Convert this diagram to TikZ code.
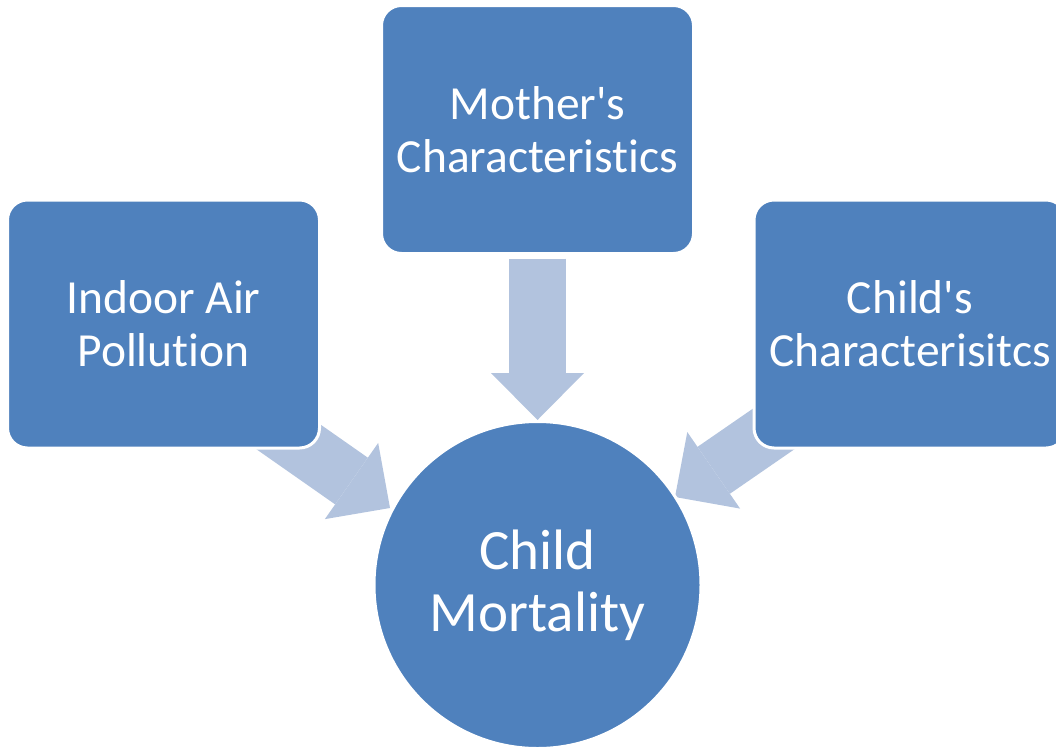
\documentclass[tikz,border=0pt]{standalone}
\usepackage{fontspec}
\setmainfont{Carlito}[Ligatures={NoCommon}]
\usetikzlibrary{arrows.meta,backgrounds}
\definecolor{boxblue}{RGB}{79,129,189}
\definecolor{arrowblue}{RGB}{178,195,222}

\begin{document}
\begin{tikzpicture}[x=1pt,y=-1pt,
	factor/.style={fill=boxblue,draw=white,line width=3pt,rounded corners=20pt,
		minimum width=312pt,minimum height=248pt,inner sep=0pt,align=center,
		text=white,font=\fontsize{47.5}{53}\selectfont},
	outcome/.style={circle,fill=boxblue,draw=white,line width=3pt,minimum size=327pt,
		inner sep=0pt,align=center,text=white,font=\fontsize{57}{62}\selectfont},
	flow/.style={draw=arrowblue,line width=57pt,
		-{Triangle[width=93pt,length=47pt,line width=0pt]}}]
		\useasboundingbox (0,0) rectangle (1056,747);
		\clip (0,0) rectangle (1056,747);
		\node[factor] (mother) at (537.5,129.5) {Mother\textquotesingle s\\Characteristics};
		\node[factor] (indoor) at (163.5,324) {Indoor Air\\Pollution};
		\node[factor] (child) at (910,324) {Child\textquotesingle s\\Characterisitcs};
		\node[outcome] (mortality) at (537.5,585) {Child\\Mortality};
		\coordinate (indoortail) at ([shift={(-64.5,-35)}]indoor.south east);
		\coordinate (indoortip) at ([shift={(-147.5,-77)}]mortality.center);
		\coordinate (childtail) at ([shift={(56.6,-45)}]child.south west);
		\coordinate (childtip) at ([shift={(137.5,-88)}]mortality.center);
		\begin{pgfonlayer}{background}
			\draw[flow,shorten <=3.5pt] (mother) -- (mortality);
			\draw[flow] (indoortail) -- (indoortip);
			\draw[flow] (childtail) -- (childtip);
		\end{pgfonlayer}
	\end{tikzpicture}
\end{document}
